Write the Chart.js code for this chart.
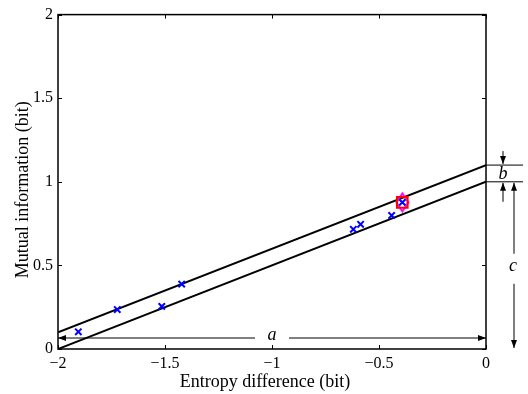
<!DOCTYPE html>
<html>
<head>
<meta charset="utf-8">
<script src="https://cdn.jsdelivr.net/npm/chart.js@4/dist/chart.umd.min.js"></script>
<style>
html,body{margin:0;padding:0;background:#fff;}
#wrap{width:528px;height:394px;position:relative;}
</style>
</head>
<body>
<div id="wrap"><canvas id="c" width="528" height="394"></canvas></div>
<script>
// ---- data ----
const entropyDiff = [-1.905, -1.723, -1.515, -1.422, -0.620, -0.586, -0.441, -0.391];
const mutualInfo  = [0.103, 0.236, 0.255, 0.388, 0.716, 0.746, 0.799, 0.877];
const highlightX = [-0.391];
const highlightY = [0.877];
const upperLineX = [-2, 0];
const upperLineY = [0.1, 1.1];
const lowerLineX = [-2, 0];
const lowerLineY = [0, 1];
const xTicks = [-2, -1.5, -1, -0.5, 0];
const yTicks = [0, 0.5, 1, 1.5, 2];
const xTitle = 'Entropy difference (bit)';
const yTitle = 'Mutual information (bit)';

const toPts = (xs, ys) => xs.map((x, i) => ({x: x, y: ys[i]}));
const fmt = v => String(v).replace('-', '\u2212');

// elongated diamond marker
const diamond = document.createElement('canvas');
diamond.width = 15; diamond.height = 21;
(function(){
  const g = diamond.getContext('2d');
  g.strokeStyle = '#ff00ff'; g.lineWidth = 2;
  g.beginPath();
  g.moveTo(7.5, 1.5); g.lineTo(13.5, 10.5); g.lineTo(7.5, 19.5); g.lineTo(1.5, 10.5); g.closePath();
  g.stroke();
})();

const serif = '"Liberation Serif", "Times New Roman", serif';

const framePlugin = {
  id: 'frame',
  afterDatasetsDraw(chart) {
    const ctx = chart.ctx;
    const a = chart.chartArea;
    const xs = chart.scales.x, ys = chart.scales.y;
    ctx.save();
    ctx.strokeStyle = '#000';
    ctx.lineWidth = 1.5;
    ctx.strokeRect(a.left, a.top, a.right - a.left, a.bottom - a.top);
    // ticks inward on all sides
    ctx.lineWidth = 1;
    ctx.beginPath();
    const tl = 4;
    xTicks.forEach(v => {
      const px = Math.round(xs.getPixelForValue(v)) + 0.5;
      ctx.moveTo(px, a.bottom); ctx.lineTo(px, a.bottom - tl);
      ctx.moveTo(px, a.top); ctx.lineTo(px, a.top + tl);
    });
    yTicks.forEach(v => {
      const py = Math.round(ys.getPixelForValue(v)) + 0.5;
      ctx.moveTo(a.left, py); ctx.lineTo(a.left + tl, py);
      ctx.moveTo(a.right, py); ctx.lineTo(a.right - tl, py);
    });
    ctx.stroke();

    // axis titles
    ctx.fillStyle = '#000';
    ctx.font = '18px ' + serif;
    ctx.textAlign = 'center'; ctx.textBaseline = 'middle';
    ctx.fillText(xTitle, xs.getPixelForValue(-1) - 7, a.bottom + 33);
    ctx.save();
    ctx.translate(23, ys.getPixelForValue(1) + 8);
    ctx.rotate(-Math.PI / 2);
    ctx.fillText(yTitle, 0, 0);
    ctx.restore();

    // annotations
    const arrow = (x1, y1, x2, y2) => {
      ctx.beginPath(); ctx.moveTo(x1, y1); ctx.lineTo(x2, y2); ctx.stroke();
      const ang = Math.atan2(y2 - y1, x2 - x1);
      const L = 8, W = 3;
      ctx.beginPath();
      ctx.moveTo(x2, y2);
      ctx.lineTo(x2 - L * Math.cos(ang) + W * Math.sin(ang), y2 - L * Math.sin(ang) - W * Math.cos(ang));
      ctx.lineTo(x2 - L * Math.cos(ang) - W * Math.sin(ang), y2 - L * Math.sin(ang) + W * Math.cos(ang));
      ctx.closePath(); ctx.fill();
    };
    ctx.lineWidth = 1;
    ctx.font = 'italic 18px ' + serif;

    // a : horizontal span from x=-2 to x=0
    const ay = a.bottom - 11;
    const xL = xs.getPixelForValue(-2), xR = xs.getPixelForValue(0);
    const xm = xs.getPixelForValue(-1);
    arrow(xm - 17, ay, xL, ay);
    arrow(xm + 17, ay, xR, ay);
    ctx.fillText('a', xm, ay - 3);

    // b : gap between lines at x=0
    const y11 = ys.getPixelForValue(1.1), y10 = ys.getPixelForValue(1.0);
    ctx.beginPath();
    ctx.moveTo(xR, y11); ctx.lineTo(xR + 37, y11);
    ctx.moveTo(xR, y10); ctx.lineTo(xR + 37, y10);
    ctx.stroke();
    const bx = xR + 17;
    arrow(bx, y11 - 14, bx, y11 - 1);
    arrow(bx, y10 + 20, bx, y10 + 1);
    ctx.fillText('b', bx, (y11 + y10) / 2 + 1);

    // c : from y=1 down to y=0
    const cx = xR + 28;
    const y0 = ys.getPixelForValue(0);
    const cm = ys.getPixelForValue(0.48);
    arrow(cx, cm - 15, cx, y10 + 1);
    arrow(cx, cm + 15, cx, y0 - 1);
    ctx.fillText('c', cx - 1, cm - 2);
    ctx.restore();
  }
};

new Chart(document.getElementById('c'), {
  type: 'scatter',
  data: {
    datasets: [
      { data: toPts(entropyDiff, mutualInfo), pointStyle: 'crossRot', pointRadius: 4.5,
        borderColor: '#0000ff', backgroundColor: '#0000ff', borderWidth: 2, order: 0 },
      { data: toPts(highlightX, highlightY), pointStyle: 'rect', pointRadius: 7.5,
        borderColor: '#ff0000', backgroundColor: 'rgba(0,0,0,0)', borderWidth: 2, order: 1 },
      { data: toPts(highlightX, highlightY), pointStyle: diamond, pointRadius: 10, order: 2 },
      { type: 'line', data: toPts(upperLineX, upperLineY), borderColor: '#000', borderWidth: 2,
        pointRadius: 0, fill: false, order: 3 },
      { type: 'line', data: toPts(lowerLineX, lowerLineY), borderColor: '#000', borderWidth: 2,
        pointRadius: 0, fill: false, order: 3 }
    ]
  },
  options: {
    responsive: false,
    animation: false,
    events: [],
    layout: { padding: { top: 12, right: 42, left: 0, bottom: 0 } },
    plugins: { legend: { display: false }, tooltip: { enabled: false } },
    scales: {
      x: {
        type: 'linear', min: -2, max: 0,
        afterBuildTicks: s => { s.ticks = xTicks.map(v => ({ value: v })); },
        afterFit: s => { s.height = 45; },
        grid: { display: false, drawTicks: false },
        border: { display: false },
        ticks: { color: '#000', font: { family: serif, size: 16 }, padding: 5,
                 maxRotation: 0, callback: v => fmt(v) },
        title: { display: false }
      },
      y: {
        type: 'linear', min: 0, max: 2,
        afterBuildTicks: s => { s.ticks = yTicks.map(v => ({ value: v })); },
        afterFit: s => { s.width = 58; },
        grid: { display: false, drawTicks: false },
        border: { display: false },
        ticks: { color: '#000', font: { family: serif, size: 16 }, padding: 5,
                 callback: v => fmt(v) },
        title: { display: false }
      }
    }
  },
  plugins: [framePlugin]
});
</script>
</body>
</html>
